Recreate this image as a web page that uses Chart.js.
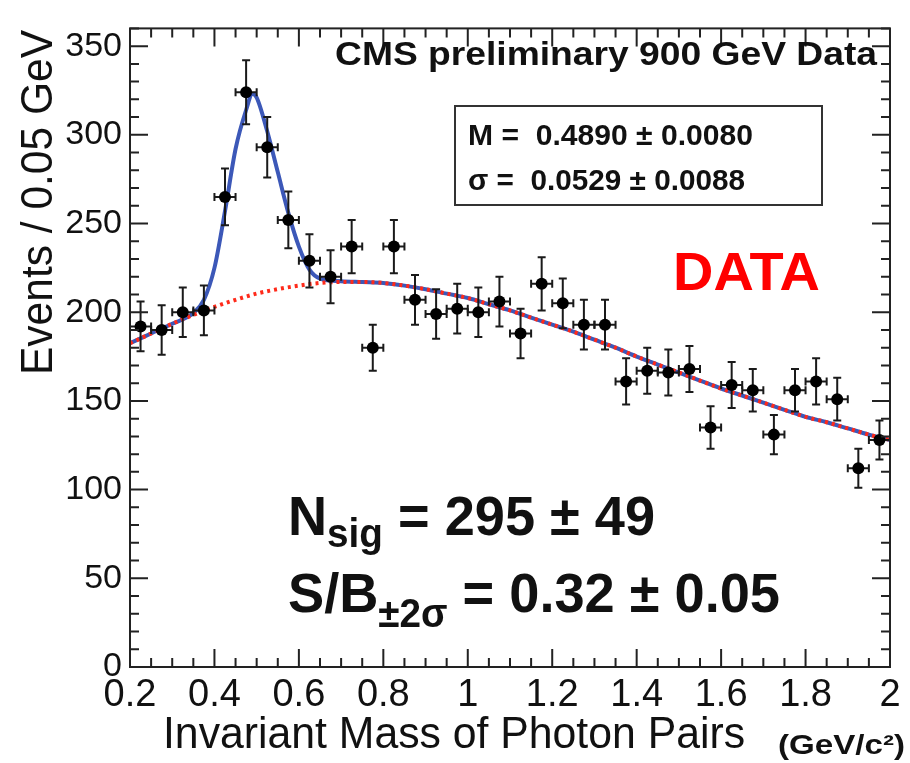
<!DOCTYPE html>
<html>
<head>
<meta charset="utf-8">
<script src="https://cdn.jsdelivr.net/npm/chart.js@4.4.1/dist/chart.umd.min.js"></script>
<style>
  html, body { margin: 0; padding: 0; background: #fff; }
</style>
</head>
<body>
<canvas id="c" width="910" height="763"></canvas>
<script>
// tick labels
const xTicks = [0.2, 0.4, 0.6, 0.8, 1, 1.2, 1.4, 1.6, 1.8, 2];
const yTicks = [0, 50, 100, 150, 200, 250, 300, 350];

// data points (bin centres, events per 0.05 GeV, errors)
const binCenters = [0.225, 0.275, 0.325, 0.375, 0.425, 0.475, 0.525, 0.575, 0.625, 0.675,
  0.725, 0.775, 0.825, 0.875, 0.925, 0.975, 1.025, 1.075, 1.125, 1.175,
  1.225, 1.275, 1.325, 1.375, 1.425, 1.475, 1.525, 1.575, 1.625, 1.675,
  1.725, 1.775, 1.825, 1.875, 1.925, 1.975];
const counts = [192, 190, 200, 201, 265, 324, 293, 252, 229, 220,
  237, 180, 237, 207, 199, 202, 200, 206, 188, 216,
  205, 193, 193, 161, 167, 166, 168, 135, 159, 156,
  131, 156, 161, 151, 112, 128];
const errors = [14, 14, 14, 14, 16, 18, 17, 16, 15, 15,
  15, 13, 15, 14, 14, 14, 14, 14, 14, 15,
  14, 14, 14, 13, 13, 13, 13, 12, 13, 12,
  11, 12, 13, 12, 11, 11];
const binHalf = 0.025;

// background fit (red dotted)
const bkgX = [0.2, 0.25, 0.3, 0.35, 0.4, 0.45, 0.5, 0.55, 0.6, 0.65,
  0.7, 0.75, 0.8, 0.85, 0.9, 0.95, 1.0, 1.05, 1.1, 1.15,
  1.2, 1.25, 1.3, 1.35, 1.4, 1.45, 1.5, 1.55, 1.6, 1.65,
  1.7, 1.75, 1.8, 1.85, 1.9, 1.95, 2.0];
const bkgY = [182.5, 188, 193.5, 198.5, 203, 207, 210.5, 213, 215, 216.5,
  217, 217, 216.5, 215, 213, 210.5, 208, 204.5, 201, 197,
  193, 189, 184.5, 180, 175, 170.5, 166, 161.5, 157, 153,
  149, 145, 141, 138, 134.5, 131, 128];

// signal + background fit (blue)
const totalX = [0.2, 0.25, 0.3, 0.35, 0.375, 0.4, 0.425, 0.45, 0.475, 0.49,
  0.5, 0.525, 0.55, 0.575, 0.6, 0.625, 0.65, 0.7, 0.75, 0.8,
  0.85, 0.9, 0.95, 1.0, 1.05, 1.1, 1.15, 1.2, 1.25, 1.3,
  1.35, 1.4, 1.45, 1.5, 1.55, 1.6, 1.65, 1.7, 1.75, 1.8,
  1.85, 1.9, 1.95, 2.0];
const totalY = [182.5, 188, 193.5, 199.5, 207, 225, 257, 292, 314, 323,
  321, 302, 279, 256, 237, 224, 219, 217.5, 217, 216.5,
  215, 213, 210.5, 208, 204.5, 201, 197, 193, 189, 184.5,
  180, 175, 170.5, 166, 161.5, 157, 153, 149, 145, 141,
  138, 134.5, 131, 128];

const xMinorStep = 0.05;
const yMinorStep = 10;

const FONT = '"Liberation Sans", Arial, Helvetica, sans-serif';

// draw text squeezed / stretched to a given width
function fitText(ctx, pieces, x, y, width) {
  let natural = 0;
  pieces.forEach(p => { ctx.font = p.font; natural += ctx.measureText(p.text).width; });
  ctx.save();
  ctx.translate(x, y);
  ctx.scale(width / natural, 1);
  let cx = 0;
  pieces.forEach(p => {
    ctx.font = p.font;
    ctx.fillStyle = p.color || '#111';
    ctx.fillText(p.text, cx, p.dy || 0);
    cx += ctx.measureText(p.text).width;
  });
  ctx.restore();
}

const errorBars = {
  id: 'errorBars',
  beforeDatasetDraw(chart, args) {
    if (args.index !== 0) return;
    const { ctx, scales: { x, y } } = chart;
    ctx.save();
    ctx.strokeStyle = '#1a1a1a';
    ctx.lineWidth = 2;
    binCenters.forEach((c, i) => {
      const px = x.getPixelForValue(c);
      const py = y.getPixelForValue(counts[i]);
      const x0 = x.getPixelForValue(c - binHalf), x1 = x.getPixelForValue(c + binHalf);
      const y0 = y.getPixelForValue(counts[i] - errors[i]), y1 = y.getPixelForValue(counts[i] + errors[i]);
      ctx.beginPath();
      ctx.moveTo(x0, py); ctx.lineTo(x1, py);
      ctx.moveTo(x0, py - 4); ctx.lineTo(x0, py + 4);
      ctx.moveTo(x1, py - 4); ctx.lineTo(x1, py + 4);
      ctx.moveTo(px, y0); ctx.lineTo(px, y1);
      ctx.moveTo(px - 4, y0); ctx.lineTo(px + 4, y0);
      ctx.moveTo(px - 4, y1); ctx.lineTo(px + 4, y1);
      ctx.stroke();
    });
    ctx.restore();
  }
};

const frame = {
  id: 'frame',
  afterDraw(chart) {
    const { ctx, chartArea: a, scales: { x, y } } = chart;
    ctx.save();
    ctx.strokeStyle = '#222';
    ctx.lineWidth = 2;
    ctx.strokeRect(a.left, a.top, a.right - a.left, a.bottom - a.top);
    ctx.beginPath();
    for (let v = x.min; v <= x.max + 1e-9; v += xMinorStep) {
      const px = x.getPixelForValue(v);
      const major = xTicks.some(t => Math.abs(t - v) < 1e-6);
      const len = major ? 18 : 9;
      ctx.moveTo(px, a.bottom); ctx.lineTo(px, a.bottom - len);
      ctx.moveTo(px, a.top); ctx.lineTo(px, a.top + len);
    }
    for (let v = y.min; v <= y.max + 1e-9; v += yMinorStep) {
      const py = y.getPixelForValue(v);
      const major = yTicks.some(t => Math.abs(t - v) < 1e-6);
      const len = major ? 18 : 9;
      ctx.moveTo(a.left, py); ctx.lineTo(a.left + len, py);
      ctx.moveTo(a.right, py); ctx.lineTo(a.right - len, py);
    }
    ctx.stroke();

    // fit parameter box
    ctx.lineWidth = 2;
    ctx.strokeStyle = '#333';
    ctx.strokeRect(455, 106, 367, 99);
    ctx.textBaseline = 'alphabetic';
    fitText(ctx, [{ text: 'M =  0.4890 \u00b1 0.0080', font: 'bold 29px ' + FONT }], 468, 145, 285);
    fitText(ctx, [{ text: '\u03c3 =  0.0529 \u00b1 0.0088', font: 'bold 29px ' + FONT }], 468, 190, 277);

    fitText(ctx, [{ text: 'CMS preliminary 900 GeV Data', font: 'bold 34px ' + FONT }], 335, 65, 542);
    fitText(ctx, [{ text: 'DATA', font: 'bold 54px ' + FONT, color: '#ff0000' }], 673, 290, 147);

    fitText(ctx, [
      { text: 'N', font: 'bold 56px ' + FONT },
      { text: 'sig', font: 'bold 40px ' + FONT, dy: 12 },
      { text: ' = 295 \u00b1 49', font: 'bold 56px ' + FONT }
    ], 288, 535, 367);
    fitText(ctx, [
      { text: 'S/B', font: 'bold 56px ' + FONT },
      { text: '\u00b12\u03c3', font: 'bold 40px ' + FONT, dy: 15 },
      { text: ' = 0.32 \u00b1 0.05', font: 'bold 56px ' + FONT }
    ], 288, 612, 492);

    // axis titles
    fitText(ctx, [{ text: 'Invariant Mass of Photon Pairs', font: '45px ' + FONT }], 163, 748, 582);
    fitText(ctx, [{ text: '(GeV/c\u00b2)', font: 'bold 27px ' + FONT }], 778, 754, 127);
    ctx.save();
    ctx.translate(52, 375);
    ctx.rotate(-Math.PI / 2);
    fitText(ctx, [{ text: 'Events / 0.05 GeV', font: '44px ' + FONT }], 0, 0, 345);
    ctx.restore();
    ctx.restore();
  }
};

new Chart(document.getElementById('c'), {
  type: 'line',
  data: {
    datasets: [
      {
        label: 'data',
        data: binCenters.map((c, i) => ({ x: c, y: counts[i] })),
        showLine: false,
        pointRadius: 6,
        pointBackgroundColor: '#000',
        pointBorderColor: '#000',
        pointBorderWidth: 0
      },
      {
        label: 'background',
        data: bkgX.map((v, i) => ({ x: v, y: bkgY[i] })),
        borderColor: '#ff2a1a',
        borderWidth: 4,
        borderDash: [3, 4],
        pointRadius: 0,
        cubicInterpolationMode: 'monotone'
      },
      {
        label: 'signal + background',
        data: totalX.map((v, i) => ({ x: v, y: totalY[i] })),
        borderColor: '#3c58b8',
        borderWidth: 4,
        pointRadius: 0,
        cubicInterpolationMode: 'monotone'
      }
    ]
  },
  options: {
    responsive: false,
    animation: false,
    devicePixelRatio: 1,
    layout: { padding: { left: 0, right: 20, top: 10, bottom: 0 } },
    plugins: { legend: { display: false }, tooltip: { enabled: false } },
    scales: {
      x: {
        type: 'linear',
        min: 0.2,
        max: 2,
        afterFit: s => { s.height = 96; },
        afterBuildTicks: s => { s.ticks = xTicks.map(v => ({ value: v })); },
        grid: { display: false, drawTicks: false },
        border: { display: false },
        ticks: {
          autoSkip: false,
          maxRotation: 0,
          padding: 6,
          color: '#111',
          font: { family: FONT, size: 38 },
          callback: v => String(v)
        }
      },
      y: {
        min: 0,
        max: 360,
        afterFit: s => { s.width = 130; },
        afterBuildTicks: s => { s.ticks = yTicks.map(v => ({ value: v })); },
        grid: { display: false, drawTicks: false },
        border: { display: false },
        ticks: {
          padding: 8,
          color: '#111',
          font: { family: FONT, size: 34 }
        }
      }
    }
  },
  plugins: [errorBars, frame]
});
</script>
</body>
</html>
